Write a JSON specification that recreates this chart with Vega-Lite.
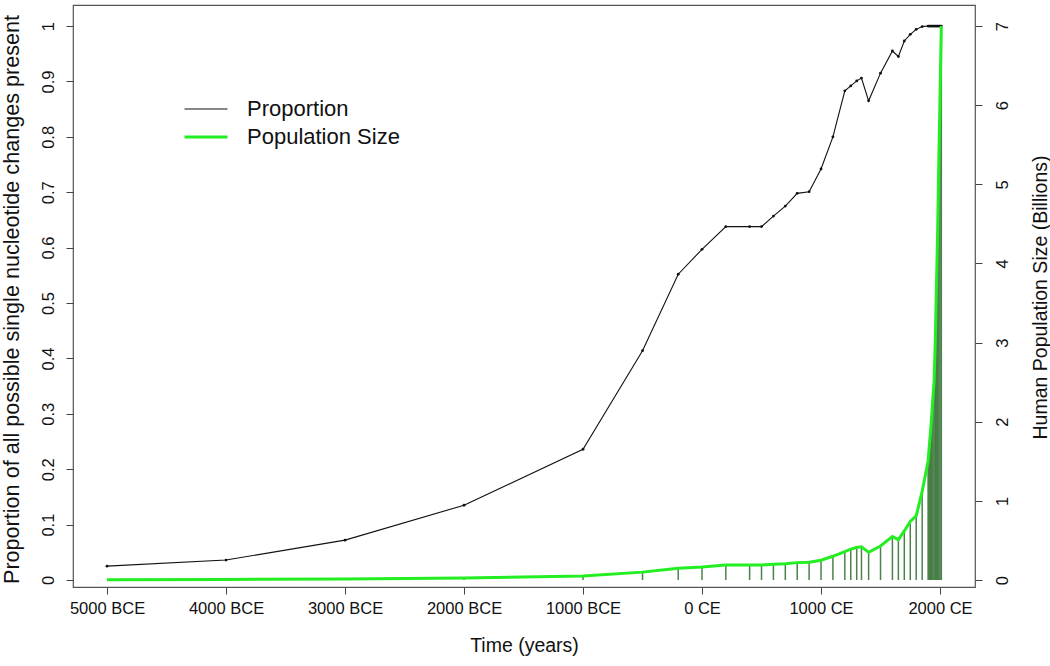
{
  "$schema": "https://vega.github.io/schema/vega-lite/v6.json",
  "width": 902,
  "height": 582,
  "autosize": {"type": "none"},
  "padding": {"left": 73, "top": 5, "right": 75, "bottom": 79},
  "background": "white",
  "config": {
    "view": {"stroke": "#555", "strokeWidth": 1.2},
    "font": "Liberation Sans",
    "axis": {
      "domain": false, "grid": false, "tickColor": "#444", "tickSize": 7, "tickWidth": 1,
      "labelFont": "Liberation Sans", "labelFontSize": 16.5, "labelColor": "#111",
      "titleFont": "Liberation Sans", "titleFontWeight": "normal", "titleFontSize": 19.5, "titleColor": "#111"
    }
  },
  "data": {"values": [
    {"year": -5000, "prop": 0.025, "pop": 0.005},
    {"year": -4000, "prop": 0.036, "pop": 0.007},
    {"year": -3000, "prop": 0.072, "pop": 0.014},
    {"year": -2000, "prop": 0.135, "pop": 0.027},
    {"year": -1000, "prop": 0.236, "pop": 0.05},
    {"year": -500, "prop": 0.414, "pop": 0.1},
    {"year": -200, "prop": 0.552, "pop": 0.15},
    {"year": 0, "prop": 0.597, "pop": 0.165},
    {"year": 200, "prop": 0.638, "pop": 0.19},
    {"year": 400, "prop": 0.638, "pop": 0.19},
    {"year": 500, "prop": 0.638, "pop": 0.19},
    {"year": 600, "prop": 0.657, "pop": 0.2},
    {"year": 700, "prop": 0.675, "pop": 0.207},
    {"year": 800, "prop": 0.698, "pop": 0.22},
    {"year": 900, "prop": 0.701, "pop": 0.226},
    {"year": 1000, "prop": 0.742, "pop": 0.25},
    {"year": 1100, "prop": 0.8, "pop": 0.3},
    {"year": 1200, "prop": 0.883, "pop": 0.36},
    {"year": 1250, "prop": 0.892, "pop": 0.39},
    {"year": 1300, "prop": 0.901, "pop": 0.41},
    {"year": 1340, "prop": 0.906, "pop": 0.42},
    {"year": 1400, "prop": 0.865, "pop": 0.35},
    {"year": 1500, "prop": 0.915, "pop": 0.43},
    {"year": 1600, "prop": 0.955, "pop": 0.55},
    {"year": 1650, "prop": 0.945, "pop": 0.51},
    {"year": 1700, "prop": 0.973, "pop": 0.62},
    {"year": 1750, "prop": 0.985, "pop": 0.74},
    {"year": 1800, "prop": 0.994, "pop": 0.81},
    {"year": 1850, "prop": 0.999, "pop": 1.12},
    {"year": 1900, "prop": 1.0, "pop": 1.5},
    {"year": 1910, "prop": 1.0, "pop": 1.7},
    {"year": 1920, "prop": 1.0, "pop": 1.86},
    {"year": 1930, "prop": 1.0, "pop": 2.07},
    {"year": 1940, "prop": 1.0, "pop": 2.3},
    {"year": 1950, "prop": 1.0, "pop": 2.5},
    {"year": 1960, "prop": 1.0, "pop": 3.0},
    {"year": 1970, "prop": 1.0, "pop": 3.7},
    {"year": 1980, "prop": 1.0, "pop": 4.4},
    {"year": 1990, "prop": 1.0, "pop": 5.3},
    {"year": 2000, "prop": 1.0, "pop": 6.1},
    {"year": 2011, "prop": 1.0, "pop": 7.0}
  ]},
  "encoding": {
    "x": {
      "field": "year", "type": "quantitative",
      "scale": {"domain": [-5286, 2294], "nice": false, "zero": false},
      "axis": {
        "values": [-5000, -4000, -3000, -2000, -1000, 0, 1000, 2000],
        "labelExpr": "datum.value < 0 ? (-datum.value) + ' BCE' : datum.value + ' CE'",
        "labelPadding": 6, "labelFlush": false,
        "title": "Time (years)", "titleX": 451, "titleY": 58, "titleBaseline": "middle", "titleAlign": "center"
      }
    }
  },
  "layer": [
    {
      "encoding": {
        "y": {
          "field": "prop", "type": "quantitative",
          "scale": {"domain": [-0.0126, 1.038], "nice": false, "zero": false},
          "axis": {
            "orient": "left",
            "values": [0, 0.1, 0.2, 0.3, 0.4, 0.5, 0.6, 0.7, 0.8, 0.9, 1],
            "format": "~g", "labelAngle": -90, "labelAlign": "center", "labelBaseline": "bottom", "labelPadding": 10,
            "title": "Proportion of all possible single nucleotide changes present",
            "titleFontSize": 21.6,
            "titleX": -61, "titleY": 294, "titleAngle": -90, "titleAlign": "center", "titleBaseline": "middle"
          }
        }
      },
      "layer": [
        {"mark": {"type": "line", "strokeWidth": 1.1},
         "encoding": {"color": {"datum": "Proportion", "type": "nominal",
           "scale": {"domain": ["Proportion", "Population Size"], "range": ["#111111", "#22ee22"]},
           "legend": {
             "orient": "none", "legendX": 122, "legendY": 93, "title": null, "padding": 0,
             "symbolType": "stroke", "symbolSize": 1849, "symbolStrokeWidth": 1.5,
             "labelFont": "Liberation Sans", "labelFontSize": 22, "labelColor": "#111", "labelOffset": 30, "rowPadding": 6,
             "encode": {"symbols": {"update": {"strokeWidth": {"signal": "datum.value === 'Population Size' ? 3 : 1.2"}}}}
           }}}},
        {"mark": {"type": "point", "filled": true, "color": "#111", "size": 8, "opacity": 1}, "encoding": {}}
      ]
    },
    {
      "encoding": {
        "y": {
          "field": "pop", "type": "quantitative",
          "scale": {"domain": [-0.088, 7.266], "nice": false, "zero": false},
          "axis": {
            "orient": "right",
            "values": [0, 1, 2, 3, 4, 5, 6, 7],
            "labelAngle": -90, "labelAlign": "center", "labelBaseline": "top", "labelPadding": 12,
            "title": "Human Population Size (Billions)",
            "titleX": 65, "titleY": 292, "titleAngle": -90, "titleAlign": "center", "titleBaseline": "middle"
          }
        }
      },
      "layer": [
        {"mark": {"type": "rule", "color": "#2d6b2d", "strokeWidth": 1.5, "opacity": 0.85},
         "encoding": {"y2": {"datum": 0}}},
        {"mark": {"type": "line", "strokeWidth": 3},
         "encoding": {"color": {"datum": "Population Size", "type": "nominal"}}}
      ]
    }
  ],
  "resolve": {"scale": {"y": "independent"}}
}
